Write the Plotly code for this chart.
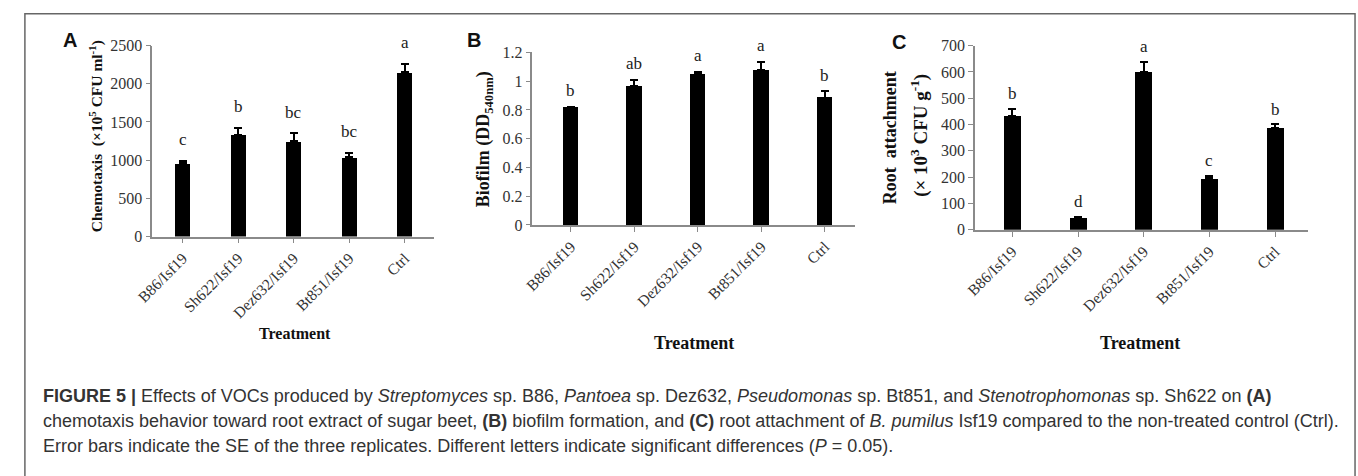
import plotly.graph_objects as go

W, H = 1358, 476

treatments = ["B86/Isf19", "Sh622/Isf19", "Dez632/Isf19", "Bt851/Isf19", "Ctrl"]

chemotaxis = [960, 1335, 1245, 1040, 2150]
chemotaxis_se = [35, 90, 105, 60, 115]
chemotaxis_letters = ["c", "b", "bc", "bc", "a"]
chemotaxis_ticks = [0, 500, 1000, 1500, 2000, 2500]

biofilm = [0.815, 0.963, 1.048, 1.077, 0.885]
biofilm_se = [0.006, 0.047, 0.018, 0.058, 0.045]
biofilm_letters = ["b", "ab", "a", "a", "b"]
biofilm_ticks = [0, 0.2, 0.4, 0.6, 0.8, 1.0, 1.2]
biofilm_ticktext = ["0", "0.2", "0.4", "0.6", "0.8", "1", "1.2"]

root = [434, 46, 601, 195, 388]
root_se = [26, 3, 38, 10, 13]
root_letters = ["b", "d", "a", "c", "b"]
root_ticks = [0, 100, 200, 300, 400, 500, 600, 700]


def px(x):
    return x / W


def py(y):
    return 1 - y / H


SERIF = "Liberation Serif, Times New Roman, serif"
SANS = "Liberation Sans, Arial, sans-serif"
AX_COLOR = "#8a8a8a"

fig = go.Figure()

panels = [
    dict(vals=chemotaxis, se=chemotaxis_se, letters=chemotaxis_letters, ticks=chemotaxis_ticks,
         ticktext=[str(t) for t in chemotaxis_ticks], xd=(137, 422), yd=(237, 39),
         yr=[0, 2500], xr=[-0.55, 4.52], bw=0.27, shift=21),
    dict(vals=biofilm, se=biofilm_se, letters=biofilm_letters, ticks=biofilm_ticks,
         ticktext=biofilm_ticktext, xd=(522, 849), yd=(225, 46),
         yr=[0, 1.2], xr=[-0.607, 4.48], bw=0.25, shift=16),
    dict(vals=root, se=root_se, letters=root_letters, ticks=root_ticks,
         ticktext=[str(t) for t in root_ticks], xd=(970, 1307), yd=(230, 39),
         yr=[0, 700], xr=[-0.571, 4.496], bw=0.255, shift=15),
]

annotations = []
for i, p in enumerate(panels):
    n = "" if i == 0 else str(i + 1)
    fig.add_trace(go.Bar(
        x=treatments, y=p["vals"], width=p["bw"],
        marker=dict(color="black", line=dict(width=0)),
        error_y=dict(type="data", array=p["se"], arrayminus=[0] * 5, symmetric=False,
                     color="black", thickness=2, width=4),
        xaxis="x" + n, yaxis="y" + n, showlegend=False, hoverinfo="skip",
    ))
    fig.update_layout(**{
        "xaxis" + n: dict(domain=[px(p["xd"][0]), px(p["xd"][1])], range=p["xr"],
                          anchor="y" + n, showline=True, linecolor=AX_COLOR, linewidth=1.5,
                          ticks="outside", ticklen=5, tickcolor=AX_COLOR, tickwidth=1.2,
                          tickangle=-45, showgrid=False, zeroline=False,
                          tickfont=dict(family=SERIF, size=15.5, color="#333")),
        "yaxis" + n: dict(domain=[py(p["yd"][0]), py(p["yd"][1])], range=p["yr"],
                          anchor="x" + n, showline=True, linecolor=AX_COLOR, linewidth=1.5,
                          ticks="outside", ticklen=5, tickcolor=AX_COLOR, tickwidth=1.2,
                          tickvals=p["ticks"], ticktext=p["ticktext"], showgrid=False,
                          zeroline=False,
                          tickfont=dict(family=SERIF, size=16, color="#333")),
    })
    for t, v, e, l in zip(treatments, p["vals"], p["se"], p["letters"]):
        annotations.append(dict(x=t, y=v + e, xref="x" + n, yref="y" + n, text=l,
                                showarrow=False, yanchor="middle", yshift=p["shift"],
                                font=dict(family=SERIF, size=17, color="#222")))


def pa(x, y, text, size, family=SERIF, angle=0, xanchor="center", color="#111"):
    annotations.append(dict(x=px(x), y=py(y), xref="paper", yref="paper", text=text,
                            showarrow=False, textangle=angle, xanchor=xanchor,
                            yanchor="middle", font=dict(family=family, size=size, color=color)))


# panel letters
pa(54, 33, "<b>A</b>", 20, SANS)
pa(463, 33, "<b>B</b>", 20, SANS)
pa(893, 35, "<b>C</b>", 20, SANS)

# y axis titles
pa(80, 133, "<b>Chemotaxis  (×10<sup>5</sup> CFU ml<sup>-1</sup>)</b>", 15.5, angle=-90)
pa(473, 136, "<b>Biofilm (DD<sub>540nm</sub>)</b>", 18, angle=-90)
pa(884, 134, "<b>Root  attachment</b>", 18, angle=-90)
pa(914, 132, "<b>(× 10<sup>3</sup> CFU g<sup>-1</sup>)</b>", 19, angle=-90)

# x axis titles
pa(282, 338, "<b>Treatment</b>", 16)
pa(686, 347, "<b>Treatment</b>", 18)
pa(1137, 347, "<b>Treatment</b>", 18)

# caption
cap_lines = [
    "<b>FIGURE 5 |</b> Effects of VOCs produced by <i>Streptomyces</i> sp. B86, <i>Pantoea</i> sp. Dez632, "
    "<i>Pseudomonas</i> sp. Bt851, and <i>Stenotrophomonas</i> sp. Sh622 on <b>(A)</b>",
    "chemotaxis behavior toward root extract of sugar beet, <b>(B)</b> biofilm formation, and <b>(C)</b> "
    "root attachment of <i>B. pumilus</i> Isf19 compared to the non-treated control (Ctrl).",
    "Error bars indicate the SE of the three replicates. Different letters indicate significant "
    "differences (<i>P</i> = 0.05).",
]
for k, line in enumerate(cap_lines):
    pa(24, 402 + 26 * k, line, 18, SANS, xanchor="left", color="#333")

shapes = [dict(type="rect", xref="paper", yref="paper", x0=px(8), x1=px(1355),
               y0=py(490), y1=py(6), line=dict(color="#666", width=1.5))]

fig.update_layout(width=W, height=H, margin=dict(l=0, r=0, t=0, b=0),
                  paper_bgcolor="white", plot_bgcolor="white",
                  annotations=annotations, shapes=shapes, bargap=0)

fig.write_html("out.html", config={"displayModeBar": False},
               post_script="document.body.style.margin='0px';document.body.style.overflow='hidden';")
